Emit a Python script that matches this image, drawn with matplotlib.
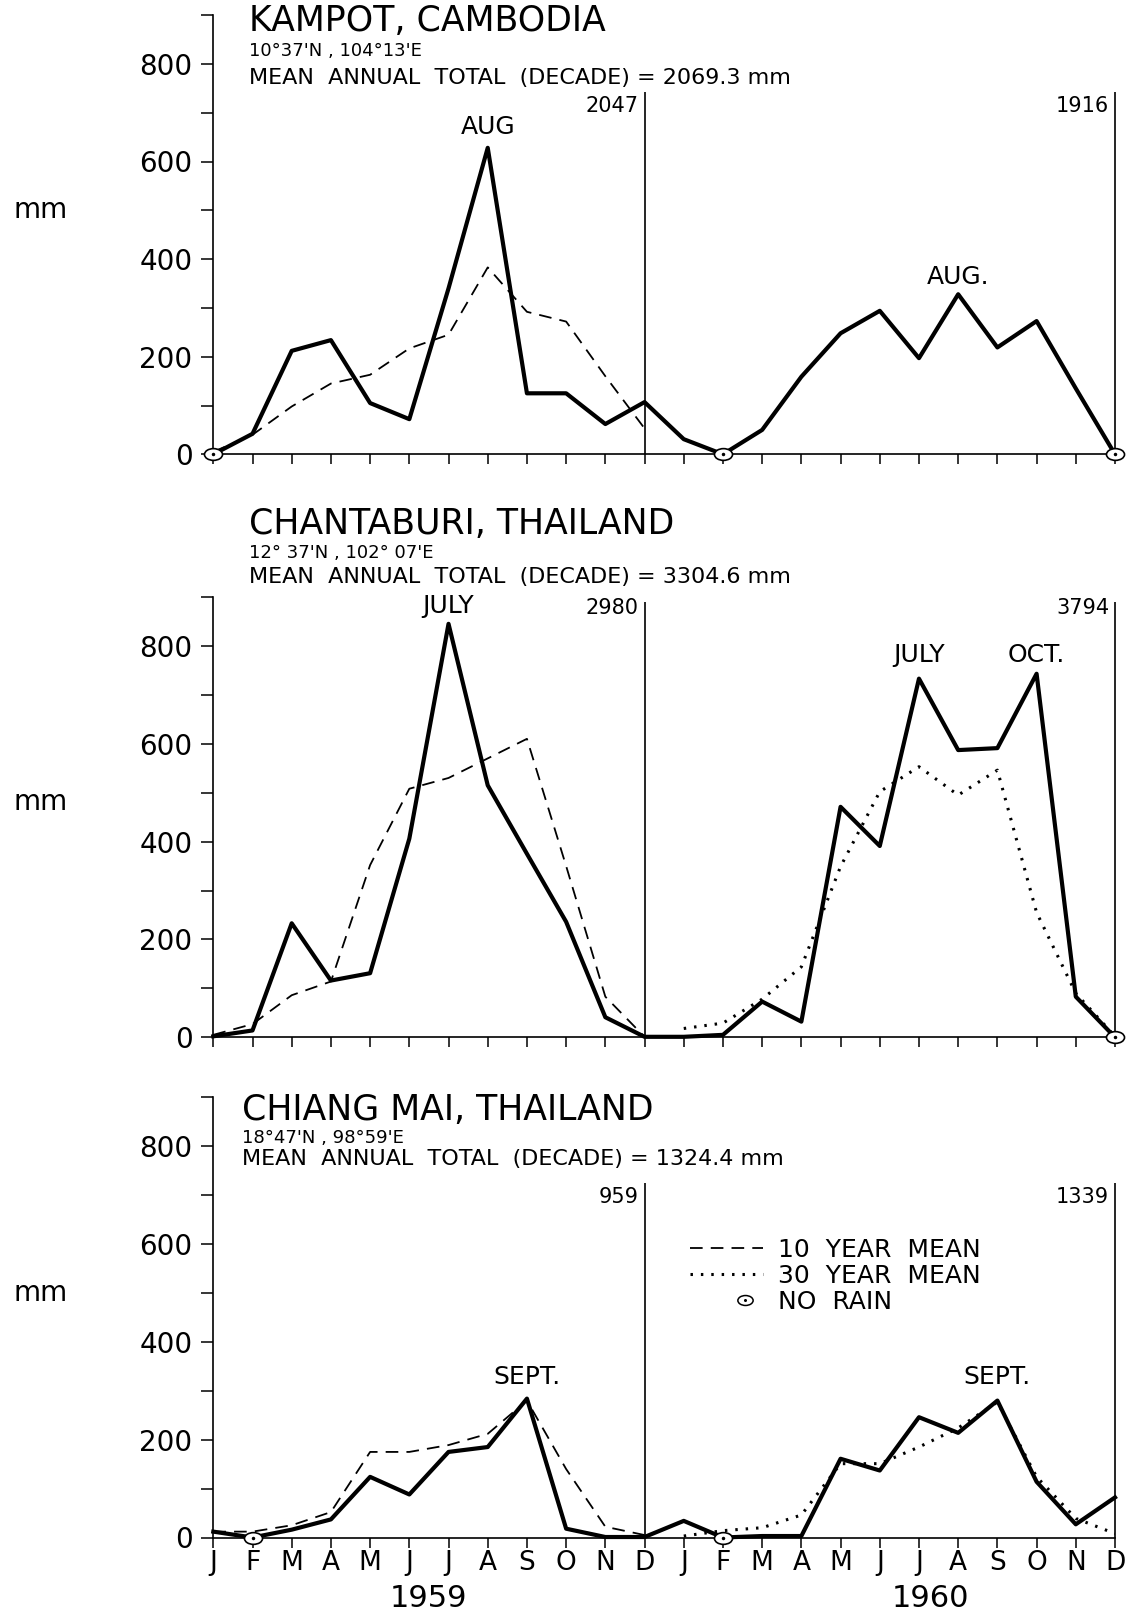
import numpy as np
import matplotlib
matplotlib.use("Agg")
import matplotlib.pyplot as plt
from matplotlib.path import Path
from matplotlib.transforms import Affine2D, blended_transform_factory
from matplotlib.lines import Line2D
from matplotlib.legend_handler import HandlerTuple

# months Jan 1959 .. Dec 1960
month_letters = ['J', 'F', 'M', 'A', 'M', 'J', 'J', 'A', 'S', 'O', 'N', 'D'] * 2
years = ['1959', '1960']

# Kampot, Cambodia - monthly rainfall (mm)
kampot_rain = [0, 42, 212, 234, 105, 72, 340, 628, 125, 125, 62, 107,
               31, 0, 50, 159, 248, 294, 197, 328, 219, 273, 135, 0]
kampot_mean10 = [5, 40, 98, 145, 163, 217, 245, 383, 292, 272, 160, 53]

# Chantaburi, Thailand
chant_rain = [2, 14, 233, 116, 131, 406, 845, 515, 375, 236, 41, 1,
              1, 5, 73, 32, 471, 391, 733, 587, 591, 743, 83, 0]
chant_mean10 = [5, 27, 86, 114, 352, 508, 530, 570, 610, 350, 83, 1]
chant_mean30 = [18, 29, 78, 144, 349, 502, 553, 495, 546, 255, 90, 2]

# Chiang Mai, Thailand
chiang_rain = [12, 0, 16, 37, 124, 88, 175, 185, 284, 18, 1, 1,
               34, 0, 3, 3, 161, 137, 246, 214, 280, 114, 27, 82]
chiang_mean10 = [12, 12, 25, 52, 175, 175, 189, 212, 280, 140, 22, 5]
chiang_mean30 = [3, 14, 20, 46, 151, 151, 185, 224, 277, 124, 39, 8]

stations = ['KAMPOT, CAMBODIA', 'CHANTABURI, THAILAND', 'CHIANG MAI, THAILAND']
positions = ["10°37'N , 104°13'E", "12° 37'N , 102° 07'E", "18°47'N , 98°59'E"]
decade_totals = ['2069.3', '3304.6', '1324.4']
year_totals = [['2047', '1916'], ['2980', '3794'], ['959', '1339']]
peak_names = [['AUG', 'AUG.'], ['JULY', 'JULY', 'OCT.'], ['SEPT.', 'SEPT.']]
peak_months = [[7, 19], [6, 18, 21], [8, 20]]

rain = [kampot_rain, chant_rain, chiang_rain]
mean10 = [kampot_mean10, chant_mean10, chiang_mean10]
mean30 = [None, chant_mean30, chiang_mean30]

# page layout, in pixels from the top-left corner
W, H = 1131, 1611
left_px, right_px = 213.3, 1115.0
zero_px = [454.3, 1037.3, 1537.5]
px_per_mm = [0.488, 0.4893, 0.489]
title_x = [249, 249, 242]
title_base = [31, 534, 1120]
coord_base = [56, 558, 1143]
mean_base = [84, 583, 1165]
sep_top = [742, 890, 725]
total_y = [713, 877, 696]
peak_y = [[670, 363], [881, 782, 782], [328, 328]]
mm_y = [500, 480, 500]
year_base = 1607

plt.rcParams['font.family'] = ['DejaVu Sans']

# open ellipse with a centre dot, for months with no rain
ring = Path.unit_circle().transformed(Affine2D().scale(1.0, 0.65))
dot = Path.unit_circle().transformed(Affine2D().scale(0.1))
no_rain_mark = Path.make_compound_path(ring, dot)


def mark_no_rain(ax, xs, ys):
    ax.plot(xs, ys, ls='none', marker=no_rain_mark, ms=13, mfc='white',
            mec='black', mew=1.2, zorder=5, clip_on=False)


fig = plt.figure(figsize=(W / 100, H / 100), dpi=100)
x = np.arange(24)

for i in range(3):
    h = 900 * px_per_mm[i]
    ax = fig.add_axes([left_px / W, (H - zero_px[i]) / H,
                       (right_px - left_px) / W, h / H])
    ax.set_xlim(0, 23)
    ax.set_ylim(0, 900)
    for s in ['top', 'right']:
        ax.spines[s].set_visible(False)
    for s in ['left', 'bottom']:
        ax.spines[s].set_linewidth(1.2)

    ax.set_yticks([0, 200, 400, 600, 800])
    ax.set_yticks(np.arange(100, 901, 200), minor=True)
    ax.set_xticks(x)
    ax.tick_params(axis='y', which='both', direction='out', length=9,
                   width=1.1, labelsize=20, pad=6)
    ax.tick_params(axis='x', direction='out', length=7, width=1.1,
                   labelsize=19, pad=2)
    if i == 2:
        ax.set_xticklabels(month_letters)
    else:
        ax.set_xticklabels([])

    # monthly totals
    r = np.array(rain[i])
    ax.plot(x, r, color='black', lw=3.0, zorder=4, clip_on=False)
    dry = r == 0
    mark_no_rain(ax, x[dry], r[dry])

    # long-term means: 10 year in 1959, 30 year in 1960
    ax.plot(x[:12], mean10[i], color='black', lw=1.3, dashes=(7, 4.5), zorder=3)
    if mean30[i] is not None:
        ax.plot(x[12:], mean30[i], color='black', lw=2.2, ls=(0, (0.8, 2.6)), zorder=3)

    # year separators and annual totals
    ax.vlines([11, 23], 0, sep_top[i], color='black', lw=1.2, clip_on=False)
    for k, xe in enumerate([11, 23]):
        ax.text(xe - 0.15, total_y[i], year_totals[i][k], ha='right',
                va='center', fontsize=15)

    for name, m, py in zip(peak_names[i], peak_months[i], peak_y[i]):
        ax.text(m, py, name, ha='center', va='center', fontsize=18)

    ax.text(-0.191, mm_y[i], 'mm', ha='center', va='center', fontsize=20,
            transform=blended_transform_factory(ax.transAxes, ax.transData))

    fig.text(title_x[i] / W, 1 - title_base[i] / H, stations[i],
             fontsize=25, va='baseline')
    fig.text(title_x[i] / W, 1 - coord_base[i] / H, positions[i],
             fontsize=13, va='baseline')
    fig.text(title_x[i] / W, 1 - mean_base[i] / H,
             'MEAN  ANNUAL  TOTAL  (DECADE) = ' + decade_totals[i] + ' mm',
             fontsize=16, va='baseline')

    if i == 2:
        for yr, xc in zip(years, [5.5, 18.3]):
            ax.text(xc, 0, yr, ha='center', va='baseline', fontsize=22,
                    transform=blended_transform_factory(ax.transData, fig.transFigure),
                    position=(xc, 1 - year_base / H))

        h10 = Line2D([], [], color='black', lw=1.3, dashes=(7, 4.5))
        h30 = Line2D([], [], color='black', lw=2.2, ls=(0, (0.8, 2.6)))
        hnr = (Line2D([], [], ls='none'),
               Line2D([], [], ls='none', marker=no_rain_mark, ms=11, mfc='white',
                      mec='black', mew=1.1))
        ax.legend([h10, h30, hnr], ['10  YEAR  MEAN', '30  YEAR  MEAN', 'NO  RAIN'],
                  handler_map={tuple: HandlerTuple(ndivide=2, pad=0)},
                  frameon=False, fontsize=18, handlelength=2.9,
                  handletextpad=0.6, labelspacing=0.08, loc='upper left',
                  bbox_to_anchor=(0.529, 0.68), borderpad=0, borderaxespad=0)

fig.savefig('out.png', dpi=100)
